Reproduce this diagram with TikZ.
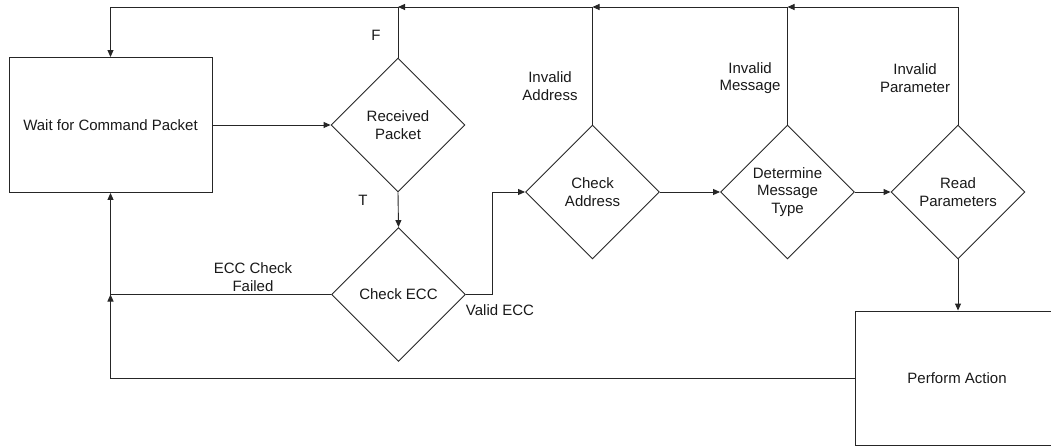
\documentclass[tikz,border=0pt]{standalone}
\usepackage{fontspec}
\setmainfont{Liberation Sans}
\usetikzlibrary{shapes.geometric,arrows.meta}
\begin{document}
\begin{tikzpicture}[x=1pt,y=-1pt,
  every node/.style={font=\fontsize{15}{17.5}\selectfont, text=black!90, align=center},
  line/.style={draw=black!85, line width=0.9pt},
  arr/.style={line, -{Triangle[length=7pt,width=6pt]}},
  decision/.style={line, shape=diamond, aspect=1, minimum width=134pt, minimum height=134pt, inner sep=0pt},
  procbox/.style={line, rectangle, minimum width=203pt, minimum height=135pt, inner sep=0pt},
  lbl/.style={inner sep=0pt}]
\path[use as bounding box] (0,0) rectangle (1051,446);
\clip (0,0) rectangle (1051,446);
\node[procbox] (wait) at (110.5,125) {Wait for Command Packet};
\node[decision] (recv) at (398,125) {Received\\Packet};
\node[decision] (ecc) at (398.5,294.5) {Check ECC};
\node[decision] (addr) at (592.5,192) {Check\\Address};
\node[decision] (det) at (787.5,192) {Determine\\Message\\Type};
\node[decision] (read) at (958,192) {Read\\Parameters};
\node[procbox, minimum width=204pt, minimum height=134pt] (perf) at (957,378) {Perform Action};
\coordinate (top) at (0,7);
% forward flow
\draw[arr] (wait.east) -- (recv.west);
\draw[arr] (recv.south) -- (ecc.north);
\draw[arr] (ecc.east) -- ++(26,0) |- (addr.west);
\draw[arr] (addr.east) -- (det.west);
\draw[arr] (det.east) -- (read.west);
\draw[arr] (read.south) -- (read.south |- perf.north);
% feedback along the top
\draw[arr] (read.north) |- (det.north |- top);
\draw[line] (det.north) -- (det.north |- top);
\draw[arr] (det.north |- top) -- (addr.north |- top);
\draw[line] (addr.north) -- (addr.north |- top);
\draw[arr] (addr.north |- top) -- (recv.north |- top);
\draw[arr] (recv.north) -- (recv.north |- top) -- (wait.north |- top) -- (wait.north);
% feedback along the bottom
\coordinate (j) at (wait.south |- ecc.west);
\draw[arr] (perf.west) -| (j);
\draw[line] (ecc.west) -- (j);
\draw[arr] (j) -- (wait.south);
% labels
\node[lbl] (lf) at (376,35) {F};
\node[lbl] (lt) at (363,200) {T};
\node[lbl] (lia) at (550,86) {Invalid\\Address};
\node[lbl] (lim) at (750,78) {Invalid\\Message};
\node[lbl] (lip) at (915,78) {Invalid\\Parameter};
\node[lbl] (lve) at (500,310) {Valid ECC};
\node[lbl] (lef) at (253,277) {ECC Check\\Failed};
\end{tikzpicture}
\end{document}
